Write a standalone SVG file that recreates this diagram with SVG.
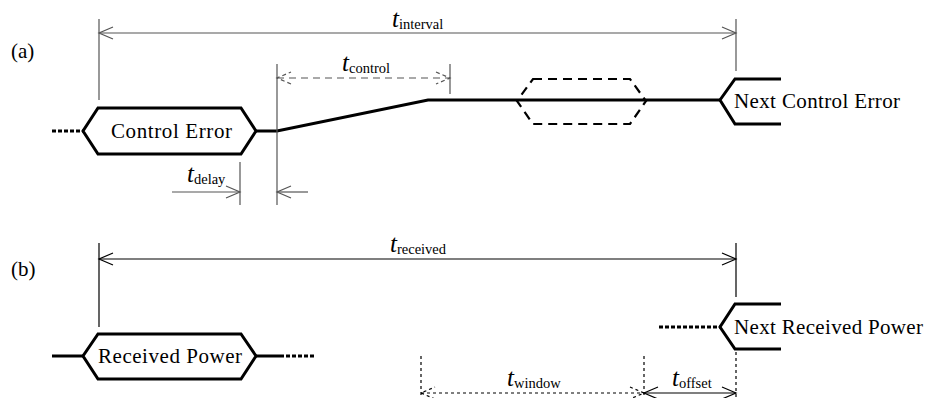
<svg xmlns="http://www.w3.org/2000/svg" width="926" height="398" viewBox="0 0 926 398">
<style>
.lbl{font-family:"Liberation Serif",serif;font-size:21px;fill:#000}
.t{font-family:"Liberation Serif",serif;font-style:italic;font-size:25px;fill:#000}
.sub{font-family:"Liberation Serif",serif;font-style:normal;font-size:14.5px}
.sig{fill:none;stroke:#000;stroke-width:3;stroke-linejoin:miter}
.dot{fill:none;stroke:#000;stroke-width:3;stroke-dasharray:4 2}
.dimg{fill:none;stroke:#555;stroke-width:1.2}
.dimk{fill:none;stroke:#000;stroke-width:1.2}
.dash{fill:none;stroke:#555;stroke-width:1.2;stroke-dasharray:7 5}
.dotk{fill:none;stroke:#000;stroke-width:1.2;stroke-dasharray:3 3}
</style>
<defs>
<marker id="ag" markerUnits="userSpaceOnUse" markerWidth="20" markerHeight="20" refX="0" refY="0" orient="auto-start-reverse" overflow="visible"><path d="M-14,-6 L0,0 L-14,6" fill="none" stroke="#555" stroke-width="1.2"/></marker>
<marker id="ak" markerUnits="userSpaceOnUse" markerWidth="20" markerHeight="20" refX="0" refY="0" orient="auto-start-reverse" overflow="visible"><path d="M-14,-6 L0,0 L-14,6" fill="none" stroke="#000" stroke-width="1.2"/></marker>
<marker id="agd" markerUnits="userSpaceOnUse" markerWidth="20" markerHeight="20" refX="0" refY="0" orient="auto-start-reverse" overflow="visible"><path d="M-14,-6 L0,0 L-14,6" fill="none" stroke="#555" stroke-width="1.2" stroke-dasharray="4 3"/></marker>
<marker id="akd" markerUnits="userSpaceOnUse" markerWidth="20" markerHeight="20" refX="0" refY="0" orient="auto-start-reverse" overflow="visible"><path d="M-14,-6 L0,0 L-14,6" fill="none" stroke="#000" stroke-width="1.2" stroke-dasharray="3 3"/></marker>
</defs>
<rect width="926" height="398" fill="#fff"/>

<text class="lbl" x="11" y="58">(a)</text>
<text class="lbl" x="11" y="276">(b)</text>

<g id="connectors">
  <!-- (a) signal -->
  <path class="dot" d="M52,131 H83"/>
  <path class="sig" d="M256,131 H277 L428,100 H720"/>
  <!-- (a) dimensions -->
  <path class="dimg" d="M99,19 V100 M736,19 V71 M277,64 V205 M450,64 V94 M240,162 V205"/>
  <path class="dimg" d="M99,33 H736" marker-start="url(#ag)" marker-end="url(#ag)"/>
  <path class="dash" d="M277,78 H450" marker-start="url(#agd)" marker-end="url(#agd)"/>
  <path class="dimg" d="M172,192 H240" marker-end="url(#ag)"/>
  <path class="dimg" d="M308,192 H277" marker-end="url(#ag)"/>
  <!-- (b) signal -->
  <path class="sig" d="M52,356 H83 M256,356 H280"/>
  <path class="dot" d="M280,356 H315"/>
  <path class="dot" d="M659,327 H720"/>
  <!-- (b) dimensions -->
  <path class="dimk" d="M99,243 V327 M736,243 V297"/>
  <path class="dimk" d="M99,259 H736" marker-start="url(#ak)" marker-end="url(#ak)"/>
  <path class="dotk" d="M421,356 V398 M644,356 V398 M736,352 V398"/>
  <path class="dotk" d="M421,393 H644" marker-start="url(#akd)" marker-end="url(#akd)"/>
  <path class="dimk" d="M644,393 H736" marker-start="url(#ak)" marker-end="url(#ak)"/>
</g>

<g id="node-control-error">
  <path class="sig" d="M98,108 H241 L256,131 L241,154 H98 L83,131 Z" fill="#fff"/>
  <text class="lbl" x="111" y="138" textLength="121" lengthAdjust="spacing">Control Error</text>
</g>
<g id="node-pending">
  <path d="M533,79 H630 L646,101 L630,124 H533 L517,101 Z" fill="none" stroke="#000" stroke-width="2.2" stroke-dasharray="9 6"/>
</g>
<g id="node-next-control-error">
  <path class="sig" d="M781,79 H735 L720,100 L735,124 H781"/>
  <text class="lbl" x="734" y="108" textLength="166" lengthAdjust="spacing">Next Control Error</text>
</g>
<g id="node-received-power">
  <path class="sig" d="M98,334 H241 L256,356 L241,379 H98 L83,356 Z" fill="#fff"/>
  <text class="lbl" x="98" y="363" textLength="144" lengthAdjust="spacing">Received Power</text>
</g>
<g id="node-next-received-power">
  <path class="sig" d="M781,304 H735 L720,327 L735,349 H781"/>
  <text class="lbl" x="734" y="334" textLength="189" lengthAdjust="spacing">Next Received Power</text>
</g>

<g id="labels">
  <text class="t" x="392" y="27">t<tspan class="sub" dy="2">interval</tspan></text>
  <text class="t" x="342" y="71">t<tspan class="sub" dy="2">control</tspan></text>
  <text class="t" x="187" y="182">t<tspan class="sub" dy="2">delay</tspan></text>
  <text class="t" x="390" y="252">t<tspan class="sub" dy="2">received</tspan></text>
  <text class="t" x="507" y="386">t<tspan class="sub" dy="2">window</tspan></text>
  <text class="t" x="672" y="386">t<tspan class="sub" dy="2">offset</tspan></text>
</g>
</svg>
